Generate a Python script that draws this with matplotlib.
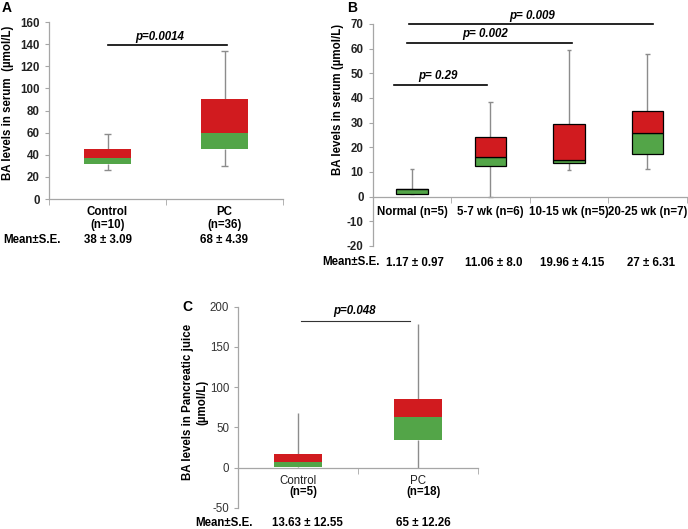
import matplotlib
matplotlib.use("Agg")
import matplotlib.pyplot as plt
from matplotlib import transforms

plt.rcParams['font.family'] = ['Liberation Sans', 'DejaVu Sans']
plt.rcParams['axes.unicode_minus'] = False

# ---------------------------------------------------------------------------
# Data
RED = '#d11b1f'
GREEN = '#53a548'
GREY = '#8c8c8c'

# panel A: serum, human
a_labels = ['Control\n(n=10)', 'PC\n(n=36)']
a_low = [26, 30]
a_q1 = [32, 45.5]
a_med = [37.4, 59.4]
a_q3 = [45.5, 90.7]
a_high = [58.8, 134]
a_means = ['38 \u00b1 3.09', '68 \u00b1 4.39']
a_p = 'p=0.0014'

# panel B: serum, time course
b_labels = ['Normal (n=5)', '5-7 wk (n=6)', '10-15 wk (n=5)', '20-25 wk (n=7)']
b_low = [1.0, 0, 11, 11.4]
b_q1 = [1.2, 12.4, 13.8, 17.3]
b_med = [3.2, 16.1, 14.8, 26.0]
b_q3 = [3.3, 24.2, 29.4, 34.7]
b_high = [11.4, 38.2, 59.5, 57.8]
b_means = ['1.17 \u00b1 0.97', '11.06 \u00b1 8.0', '19.96 \u00b1 4.15', '27 \u00b1 6.31']
b_pvals = ['p= 0.29', 'p= 0.002', 'p= 0.009']
b_pspan = [(-0.23, 0.95), (-0.06, 2.04), (-0.04, 3.07)]
b_plevel = [45.4, 62.4, 70.0]

# panel C: pancreatic juice
c_groups = ['Control', 'PC']
c_n = ['(n=5)', '(n=18)']
c_low = [0, 0]
c_q1 = [0.5, 34]
c_med = [7.5, 63]
c_q3 = [17, 85.3]
c_high = [67.6, 178.5]
c_means = ['13.63 \u00b1 12.55', '65 \u00b1 12.26']
c_p = 'p=0.048'

W, H = 688, 529


def px(x, y):
    return x / W, 1 - y / H


def boxes(ax, low, q1, med, q3, high, edge=None, cap=0.0):
    n = len(q1)
    xs = list(range(n))
    ec = edge if edge else 'none'
    lw = 0.9 if edge else 0
    ax.vlines(xs, low, q1, color=GREY, lw=1.0, zorder=1)
    ax.vlines(xs, q3, high, color=GREY, lw=1.0, zorder=1)
    if cap > 0:
        ax.hlines(high, [x - cap for x in xs], [x + cap for x in xs], color=GREY, lw=1.0)
        ax.hlines(low, [x - cap for x in xs], [x + cap for x in xs], color=GREY, lw=1.0)
    ax.bar(xs, [m - q for m, q in zip(med, q1)], bottom=q1, width=0.4,
           color=GREEN, edgecolor=ec, linewidth=lw, zorder=2)
    ax.bar(xs, [q - m for q, m in zip(q3, med)], bottom=med, width=0.4,
           color=RED, edgecolor=ec, linewidth=lw, zorder=2)


def style(ax, n, ylo, yhi, bold=True):
    ax.set_xlim(-0.5, n - 0.5)
    ax.set_ylim(ylo, yhi)
    for s in ['top', 'right']:
        ax.spines[s].set_visible(False)
    ax.spines['bottom'].set_position(('data', 0))
    for s in ['left', 'bottom']:
        ax.spines[s].set_color('#a6a6a6')
        ax.spines[s].set_linewidth(0.9)
    ax.set_xticks([i - 0.5 for i in range(n + 1)], minor=True)
    ax.tick_params(axis='x', which='minor', length=4, color='#a6a6a6')
    ax.tick_params(axis='x', which='major', length=0)
    ax.tick_params(axis='y', length=3, color='#a6a6a6', labelsize=8.3,
                   labelcolor='#222222')
    if bold:
        for t in ax.get_yticklabels():
            t.set_fontweight('bold')


fig = plt.figure(figsize=(6.88, 5.29), dpi=100)

# ---------------------------------------------------------------- panel A
axA = fig.add_axes([49 / W, 1 - 199 / H, 234 / W, 177 / H])
boxes(axA, a_low, a_q1, a_med, a_q3, a_high, cap=0.028)
axA.set_yticks(range(0, 161, 20))
style(axA, 2, 0, 160)
axA.set_xticks(range(2))
axA.set_xticklabels(a_labels, fontsize=8.3, fontweight='bold', linespacing=1.1)
axA.tick_params(axis='x', which='major', pad=5)
axA.plot([0, 1.02], [139.6, 139.6], color='black', lw=1.2, clip_on=False)
axA.text(0.45, 141, a_p, ha='center', va='bottom', fontsize=8.3,
         fontweight='bold', style='italic')
trA = transforms.blended_transform_factory(axA.transData, axA.transAxes)
for i, m in enumerate(a_means):
    axA.text(i, -0.232, m, transform=trA, ha='center', va='center',
             fontsize=8.3, fontweight='bold')
fig.text(*px(3, 240), 'Mean\u00b1S.E.', ha='left', va='center', fontsize=8.3,
         fontweight='bold')
fig.text(*px(8, 103), 'BA levels in serum  (\u00b5mol/L)', rotation=90,
         ha='center', va='center', fontsize=8.3, fontweight='bold')
fig.text(*px(6.5, 8.5), 'A', ha='center', va='center', fontsize=10,
         fontweight='bold')

# ---------------------------------------------------------------- panel B
axB = fig.add_axes([372.7 / W, 1 - 246 / H, 314 / W, 222 / H])
boxes(axB, b_low, b_q1, b_med, b_q3, b_high, edge='black', cap=0.03)
axB.set_yticks(range(-20, 71, 10))
style(axB, 4, -20, 70)
axB.set_xticks(range(4))
axB.set_xticklabels(b_labels, fontsize=8.3, fontweight='bold')
axB.tick_params(axis='x', which='major', pad=7)
for lab, (x0, x1), yv in zip(b_pvals, b_pspan, b_plevel):
    axB.plot([x0, x1], [yv, yv], color='black', lw=1.2, clip_on=False)
b_ptext_x = [0.33, 0.93, 1.53]
for lab, xt, yv in zip(b_pvals, b_ptext_x, b_plevel):
    axB.text(xt, yv + 1.0, lab, ha='center', va='bottom', fontsize=8.3,
             fontweight='bold', style='italic')
for i, m in enumerate(b_means):
    axB.text(i + 0.04, -26.7, m, ha='center', va='center', fontsize=8.3,
             fontweight='bold', clip_on=False)
fig.text(*px(322, 262), 'Mean\u00b1S.E.', ha='left', va='center', fontsize=8.3,
         fontweight='bold')
fig.text(*px(338, 99), 'BA levels in serum (\u00b5mol/L)', rotation=90,
         ha='center', va='center', fontsize=8.3, fontweight='bold')
fig.text(*px(352, 8.5), 'B', ha='center', va='center', fontsize=10,
         fontweight='bold')

# ---------------------------------------------------------------- panel C
axC = fig.add_axes([238.3 / W, 1 - 508 / H, 239.7 / W, 201.3 / H])
boxes(axC, c_low, c_q1, c_med, c_q3, c_high)
axC.set_yticks(range(-50, 201, 50))
style(axC, 2, -50, 200, bold=False)
axC.set_xticks([])
axC.tick_params(axis='y', labelcolor='#333333')
axC.plot([0.02, 0.93], [182, 182], color='#333333', lw=0.8, clip_on=False)
axC.text(0.47, 187, c_p, ha='center', va='bottom', fontsize=8.3,
         fontweight='bold', style='italic')
for i, (g, n) in enumerate(zip(c_groups, c_n)):
    axC.text(i, -16, g, ha='center', va='center', fontsize=8.3, color='#222222')
    axC.text(i + 0.045, -30, n, ha='center', va='center', fontsize=8.3,
             fontweight='bold')
c_mean_x = [0.077, 1.047]
for xm, m in zip(c_mean_x, c_means):
    axC.text(xm, -68.6, m, ha='center', va='center', fontsize=8.3,
             fontweight='bold', clip_on=False)
fig.text(*px(195, 523), 'Mean\u00b1S.E.', ha='left', va='center', fontsize=8.3,
         fontweight='bold')
fig.text(*px(195, 402), 'BA levels in Pancreatic juice\n(\u00b5mol/L)',
         rotation=90, ha='center', va='center', fontsize=8.3,
         fontweight='bold', linespacing=1.3)
fig.text(*px(187, 307), 'C', ha='center', va='center', fontsize=10,
         fontweight='bold')

fig.savefig('out.png', dpi=100)
